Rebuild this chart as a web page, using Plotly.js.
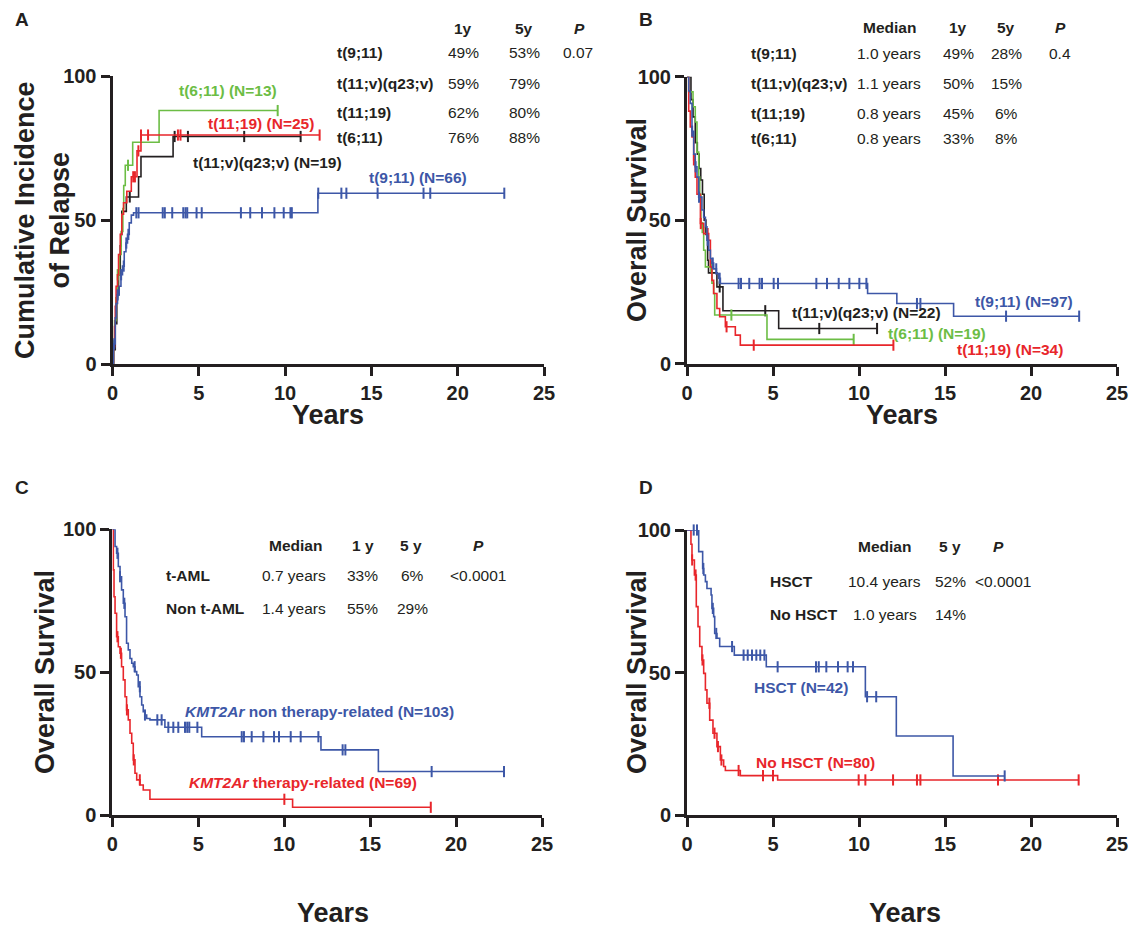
<!DOCTYPE html>
<html><head><meta charset="utf-8">
<script src="https://cdn.plot.ly/plotly-3.0.1.min.js"></script>
<style>html,body{margin:0;padding:0;background:#fff}#chart{width:1131px;height:929px}</style>
</head><body><div id="chart"></div>
<script>
// ---------------- DATA ----------------
const xTicks = [0, 5, 10, 15, 20, 25];
const yTicks = [0, 50, 100];

// Panel A: cumulative incidence of relapse (years, %)
const A_t911_t = [0,0.06,0.16,0.21,0.29,0.39,0.49,0.58,0.68,0.78,0.87,0.97,1.09,1.22,11.9,22.7];
const A_t911_v = [0,7,16,21,24,27,31,34,39,42,45,49,51.7,52.5,59.3,59.3];
const A_t911_c = [0.1,0.3,0.5,0.65,0.8,0.92,1.38,1.51,2.91,3.03,3.46,4.1,4.23,4.33,4.87,5.17,7.44,7.98,8.66,9.38,9.92,10.31,10.39,11.92,13.26,13.55,15.36,18.02,18.41,22.7];
const A_t11v_t = [0,0.06,0.16,0.25,0.35,0.45,0.5,0.54,0.8,1.51,1.65,3.51,10.9];
const A_t11v_v = [0,5,14,24,31,41,45,53,58,65,72,79,79];
const A_t11v_c = [1.0,3.6,4.37,7.63,10.9];
const A_t1119_t = [0,0.06,0.12,0.16,0.21,0.29,0.35,0.45,0.54,0.64,0.83,1.09,1.42,1.65,12.0];
const A_t1119_v = [0,6,13,20,27,31,38,45,52,56,60,65,74,79.5,79.5];
const A_t1119_c = [1.2,1.3,1.5,1.65,2.06,3.79,3.94,12.0];
const A_t611_t = [0,0.06,0.12,0.2,0.3,0.4,0.5,0.6,0.65,0.74,1.17,2.7,9.57];
const A_t611_v = [0,8,15,23,31,38,46,54,62,69,77,88,88];
const A_t611_c = [0.3,0.9,9.57];

// Panel B: overall survival by translocation
const B_t911_t = [0,0.1,0.19,0.29,0.39,0.48,0.58,0.68,0.87,0.97,1.07,1.16,1.26,1.36,1.45,1.55,1.71,1.84,1.94,10.5,12.2,15.5,22.8];
const B_t911_v = [100,95,90.7,81,73,68.6,65,58,53.5,51,47.7,43,39.5,36.6,35,33,31.4,29.7,27.9,24.4,20.9,16.5,16.5];
const B_t911_c = [0.3,0.5,0.7,1.2,1.5,1.7,1.9,3.0,3.14,3.62,4.22,4.36,5.04,5.29,7.52,8.14,8.82,9.44,10.02,10.43,13.37,13.57,18.55,22.8];
const B_t11v_t = [0,0.23,0.35,0.48,0.6,0.7,0.8,0.9,1.0,1.1,1.2,1.25,1.74,2.09,5.33,11.05];
const B_t11v_v = [100,92,86,77,73,68,64,59,50,45,36,31.6,26.7,18.4,12.2,12.2];
const B_t11v_c = [1.9,4.55,7.69,11.05];
const B_t1119_t = [0,0.1,0.19,0.29,0.39,0.48,0.58,0.78,0.97,1.26,1.36,1.45,1.55,1.74,1.9,2.23,2.81,3.1,12.0];
const B_t1119_v = [100,88,82.5,79,71,65,59,48.8,45.3,43,33.7,29,24.4,19.2,16.3,12.8,9.9,6.4,6.4];
const B_t1119_c = [0.4,0.8,1.2,2.3,3.88,12.0];
const B_t611_t = [0,0.1,0.35,0.48,0.58,0.68,0.74,0.81,0.97,1.07,1.45,1.55,1.61,4.65,9.69];
const B_t611_v = [100,94.7,89.5,84.2,73.7,65,59,47.4,39.5,33.7,28,24.4,16.9,8.4,8.4];
const B_t611_c = [0.9,1.4,2.58,9.69];

// Panel C: therapy-related vs non therapy-related
const C_non_t = [0,0.16,0.25,0.35,0.45,0.54,0.64,0.74,0.83,0.93,1.03,1.13,1.22,1.32,1.42,1.51,1.61,1.71,1.8,1.9,2.0,2.19,3.06,5.2,12.14,15.48,22.79];
const C_non_v = [100,94,91.6,87,83.4,78.8,74.1,69.4,60.1,57.8,54.8,53.1,51.9,50.2,49,44.9,41.4,38.5,36.2,35,33.8,33.3,30.7,27.4,22.8,15.2,15.2];
const C_non_c = [0.3,0.45,0.7,1.3,1.6,1.9,2.62,2.87,3.26,3.55,3.84,4.23,4.36,4.48,4.95,7.53,7.66,8.11,8.79,9.41,9.7,10.38,10.96,11.99,13.4,13.56,18.58,22.79];
const C_tr_t = [0,0.06,0.1,0.16,0.25,0.35,0.45,0.54,0.64,0.74,0.83,0.93,1.03,1.13,1.22,1.32,1.42,1.61,1.8,2.19,10.49,18.53];
const C_tr_v = [100,85.8,76.4,70.6,62.4,58.9,56.6,51.9,47.3,41.4,36.8,33.3,28.6,25.1,19.3,14.6,12.3,10.5,8.75,5.5,2.7,2.7];
const C_tr_c = [0.3,0.5,0.85,1.25,1.6,10.01,18.53];

// Panel D: HSCT vs no HSCT
const D_hsct_t = [0,0.68,0.91,0.97,1.07,1.16,1.4,1.45,1.55,1.61,1.74,1.9,2.75,4.61,10.37,12.17,15.47,18.47];
const D_hsct_v = [100,92.4,86.5,84.2,81.9,79.5,77.2,72.5,69.6,63.7,62,59.1,56.1,52,41.5,27.7,13.7,13.7];
const D_hsct_c = [0.39,0.58,0.95,1.5,1.7,2.62,3.29,3.53,3.78,4.03,4.26,4.5,5.27,7.5,7.66,8.1,8.78,9.34,9.65,10.47,11.0,18.47];
const D_no_t = [0,0.23,0.29,0.43,0.54,0.64,0.74,0.87,0.97,1.07,1.16,1.32,1.51,1.74,1.94,2.13,2.23,3.1,5.27,22.77];
const D_no_v = [100,95,89.5,84.2,73.1,66.1,59.1,54.4,49.7,43.9,39.2,33.3,28.7,24,19.3,17,15.6,13.8,12.3,12.3];
const D_no_c = [0.3,0.5,0.9,1.3,1.6,1.8,2.0,3.0,4.42,5.0,9.98,10.37,11.98,13.37,13.57,18.08,22.77];

// Tables
const A_rows = ["t(9;11)", "t(11;v)(q23;v)", "t(11;19)", "t(6;11)"];
const A_1y = ["49%", "59%", "62%", "76%"];
const A_5y = ["53%", "79%", "80%", "88%"];
const A_p = ["0.07", "", "", ""];
const B_rows = ["t(9;11)", "t(11;v)(q23;v)", "t(11;19)", "t(6;11)"];
const B_med = ["1.0 years", "1.1 years", "0.8 years", "0.8 years"];
const B_1y = ["49%", "50%", "45%", "33%"];
const B_5y = ["28%", "15%", "6%", "8%"];
const B_p = ["0.4", "", "", ""];
const C_rows = ["t-AML", "Non t-AML"];
const C_med = ["0.7 years", "1.4 years"];
const C_1y = ["33%", "55%"];
const C_5y = ["6%", "29%"];
const C_p = ["<0.0001", ""];
const D_rows = ["HSCT", "No HSCT"];
const D_med = ["10.4 years", "1.0 years"];
const D_5y = ["52%", "14%"];
const D_p = ["<0.0001", ""];

// ---------------- STYLE ----------------
const W = 1131, H = 929;
const FONT = '"Liberation Sans", Arial, Helvetica, sans-serif';
const TXT = '#231f20';
const BLUE = '#3d57a7', RED = '#e8262b', GREEN = '#6cbd45', BLACK = '#231f20';

function stepVal(t, v, tc) { let val = v[0]; for (let i = 0; i < t.length; i++) if (t[i] <= tc + 1e-9) val = v[i]; return val; }
function curve(t, v, color, ax) {
  return {x: t, y: v, mode: 'lines', line: {shape: 'hv', color: color, width: 1.6}, xaxis: 'x' + ax, yaxis: 'y' + ax, hoverinfo: 'skip', showlegend: false};
}
function cens(c, t, v, color, ax) {
  return {x: c, y: c.map(tc => stepVal(t, v, tc)), mode: 'markers', xaxis: 'x' + ax, yaxis: 'y' + ax,
    marker: {symbol: 'line-ns-open', size: 8, color: color, line: {color: color, width: 2}}, hoverinfo: 'skip', showlegend: false, cliponaxis: false};
}
function both(t, v, c, color, ax) { return [curve(t, v, color, ax), cens(c, t, v, color, ax)]; }

const traces = [].concat(
  both(A_t11v_t, A_t11v_v, A_t11v_c, BLACK, ''),
  both(A_t611_t, A_t611_v, A_t611_c, GREEN, ''),
  both(A_t1119_t, A_t1119_v, A_t1119_c, RED, ''),
  both(A_t911_t, A_t911_v, A_t911_c, BLUE, ''),
  both(B_t11v_t, B_t11v_v, B_t11v_c, BLACK, '2'),
  both(B_t611_t, B_t611_v, B_t611_c, GREEN, '2'),
  both(B_t1119_t, B_t1119_v, B_t1119_c, RED, '2'),
  both(B_t911_t, B_t911_v, B_t911_c, BLUE, '2'),
  both(C_tr_t, C_tr_v, C_tr_c, RED, '3'),
  both(C_non_t, C_non_v, C_non_c, BLUE, '3'),
  both(D_no_t, D_no_v, D_no_c, RED, '4'),
  both(D_hsct_t, D_hsct_v, D_hsct_c, BLUE, '4')
);

// panel pixel boxes: [left, right, top(100), bottom(0)]
const boxes = {'': [112.5, 544, 76, 364], '2': [687, 1117, 76.7, 363.5], '3': [112.3, 542, 529.3, 815], '4': [687, 1117, 530, 815]};
const tickFont = {family: FONT, size: 20, color: TXT, weight: 700};
const layout = {width: W, height: H, margin: {l: 0, r: 0, t: 0, b: 0}, paper_bgcolor: '#fff', plot_bgcolor: 'rgba(0,0,0,0)', showlegend: false, annotations: []};
for (const k in boxes) {
  const b = boxes[k];
  layout['xaxis' + k] = {domain: [b[0] / W, b[1] / W], anchor: 'y' + k, range: [0, 25], tickvals: xTicks, ticktext: xTicks.map(String),
    showline: true, linewidth: 3, linecolor: TXT, ticks: 'outside', ticklen: 9, tickwidth: 3, tickcolor: TXT, showgrid: false, zeroline: false, tickfont: tickFont, fixedrange: true};
  layout['yaxis' + k] = {domain: [1 - b[3] / H, 1 - b[2] / H], anchor: 'x' + k, range: [0, 100], tickvals: yTicks, ticktext: yTicks.map(String),
    showline: true, linewidth: 3, linecolor: TXT, ticks: 'outside', ticklen: 9, tickwidth: 3, tickcolor: TXT, showgrid: false, zeroline: false, tickfont: tickFont, fixedrange: true};
}

function ann(x, y, text, o) {
  const a = {xref: 'paper', yref: 'paper', x: x / W, y: 1 - y / H, text: text, showarrow: false, xanchor: 'center', yanchor: 'middle',
    font: {family: FONT, size: 15.5, color: TXT}};
  if (o) { for (const k in o) { if (k === 'font') Object.assign(a.font, o.font); else a[k] = o[k]; } }
  layout.annotations.push(a);
}
// panel letters
ann(22, 19, '<b>A</b>', {font: {size: 19}});
ann(646, 19, '<b>B</b>', {font: {size: 19}});
ann(22, 487, '<b>C</b>', {font: {size: 19}});
ann(646, 487, '<b>D</b>', {font: {size: 19}});
// axis titles
ann(328, 415, '<b>Years</b>', {font: {size: 27}});
ann(902, 415, '<b>Years</b>', {font: {size: 27}});
ann(333, 913, '<b>Years</b>', {font: {size: 27}});
ann(905, 913, '<b>Years</b>', {font: {size: 27}});
ann(43, 220, '<b>Cumulative Incidence<br>of Relapse</b>', {textangle: -90, font: {size: 27}});
ann(637, 220, '<b>Overall Survival</b>', {textangle: -90, font: {size: 27}});
ann(45, 672, '<b>Overall Survival</b>', {textangle: -90, font: {size: 27}});
ann(637, 672, '<b>Overall Survival</b>', {textangle: -90, font: {size: 27}});

// Table A
ann(463, 29, '<b>1y</b>'); ann(524, 29, '<b>5y</b>'); ann(579, 29, '<b><i>P</i></b>');
const A_ys = [53, 83, 112, 138];
A_rows.forEach((r, i) => {
  ann(335, A_ys[i], '<b>' + r + '</b>', {xanchor: 'left'});
  ann(463, A_ys[i], A_1y[i]); ann(524, A_ys[i], A_5y[i]);
  if (A_p[i]) ann(578, A_ys[i], A_p[i]);
});
// Table B
ann(889, 28, '<b>Median</b>'); ann(958, 28, '<b>1y</b>'); ann(1006, 28, '<b>5y</b>'); ann(1060, 28, '<b><i>P</i></b>');
const B_ys = [54, 83, 113, 139];
B_rows.forEach((r, i) => {
  ann(749, B_ys[i], '<b>' + r + '</b>', {xanchor: 'left'});
  ann(889, B_ys[i], B_med[i]); ann(958, B_ys[i], B_1y[i]); ann(1006, B_ys[i], B_5y[i]);
  if (B_p[i]) ann(1060, B_ys[i], B_p[i]);
});
// Table C
ann(295, 545, '<b>Median</b>'); ann(363, 545, '<b>1 y</b>'); ann(411, 545, '<b>5 y</b>'); ann(478, 545, '<b><i>P</i></b>');
const C_ys = [575, 608];
C_rows.forEach((r, i) => {
  ann(164, C_ys[i], '<b>' + r + '</b>', {xanchor: 'left'});
  ann(294, C_ys[i], C_med[i]); ann(362, C_ys[i], C_1y[i]); ann(412, C_ys[i], C_5y[i]);
  if (C_p[i]) ann(478, C_ys[i], C_p[i].replace('<', '&lt;'));
});
// Table D
ann(885, 546, '<b>Median</b>'); ann(950, 546, '<b>5 y</b>'); ann(998, 546, '<b><i>P</i></b>');
const D_ys = [581, 614];
D_rows.forEach((r, i) => {
  ann(768, D_ys[i], '<b>' + r + '</b>', {xanchor: 'left'});
  ann(885, D_ys[i], D_med[i]); ann(950, D_ys[i], D_5y[i]);
  if (D_p[i]) ann(1003, D_ys[i], D_p[i].replace('<', '&lt;'));
});

// curve labels
ann(228, 91, '<b>t(6;11) (N=13)</b>', {font: {color: GREEN}});
ann(261, 123, '<b>t(11;19) (N=25)</b>', {font: {color: RED}});
ann(267, 163, '<b>t(11;v)(q23;v) (N=19)</b>', {font: {color: BLACK}});
ann(418, 178, '<b>t(9;11) (N=66)</b>', {font: {color: BLUE}});
ann(866, 312, '<b>t(11;v)(q23;v) (N=22)</b>', {font: {color: BLACK}});
ann(1024, 301, '<b>t(9;11) (N=97)</b>', {font: {color: BLUE}});
ann(937, 333, '<b>t(6;11) (N=19)</b>', {font: {color: GREEN}});
ann(1010, 349, '<b>t(11;19) (N=34)</b>', {font: {color: RED}});
ann(183, 711, '<b><i>KMT2Ar</i> non therapy-related (N=103)</b>', {xanchor: 'left', font: {color: BLUE}});
ann(187, 782, '<b><i>KMT2Ar</i> therapy-related (N=69)</b>', {xanchor: 'left', font: {color: RED}});
ann(801, 687, '<b>HSCT (N=42)</b>', {font: {color: BLUE}});
ann(754, 762, '<b>No HSCT (N=80)</b>', {xanchor: 'left', font: {color: RED}});

Plotly.newPlot('chart', traces, layout, {staticPlot: true, displayModeBar: false});
</script></body></html>
